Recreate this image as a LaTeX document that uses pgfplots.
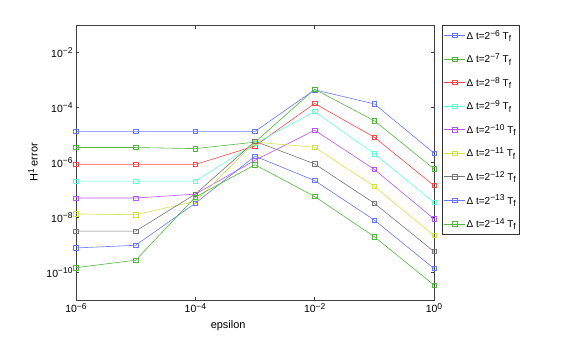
\documentclass[border=0pt]{standalone}
\usepackage{fontspec}
\setmainfont{Liberation Sans}
\usepackage{pgfplots}
\pgfplotsset{compat=1.18}

\definecolor{cblue}{RGB}{100,120,255}
\definecolor{cgreen}{RGB}{80,185,60}
\definecolor{cred}{RGB}{255,70,70}
\definecolor{ccyan}{RGB}{100,255,210}
\definecolor{cpurple}{RGB}{185,85,255}
\definecolor{cyellow}{RGB}{210,225,70}
\definecolor{cgray}{RGB}{120,120,120}

\tikzset{
  ser/.style={line width=0.6pt, mark=square, mark size=2.2bp,
              mark options={solid, line width=0.6pt}},
}
\newcommand{\hi}[1]{\raisebox{0.6ex}{\fontsize{8.5}{9}\selectfont #1}}
\newcommand{\lo}[1]{\raisebox{-0.45ex}{\fontsize{8.5}{9}\selectfont #1}}
\newcommand{\dt}[1]{Δ t=2\hi{−#1} T\lo{f}}

\begin{document}
\begin{tikzpicture}
\useasboundingbox (0,0) rectangle (586bp,-337bp);
\begin{axis}[
  at={(76bp,-300bp)}, anchor=south west,
  scale only axis, width=358bp, height=275bp,
  xmode=log, ymode=log,
  xmin=1e-6, xmax=1, ymin=1e-11, ymax=1e-1,
  xtick={1e-6,1e-4,1e-2,1},
  xticklabels={10\hi{−6},10\hi{−4},10\hi{−2},10\hi{0}},
  ytick={1e-10,1e-8,1e-6,1e-4,1e-2},
  yticklabels={10\hi{−10},10\hi{−8},10\hi{−6},10\hi{−4},10\hi{−2}},
  minor tick num=0, minor xtick={}, minor ytick={},
  tick align=inside, major tick length=3.5bp,
  axis line style={black!75, line width=0.6pt},
  tick style={black!75, line width=0.5pt},
  tick label style={font=\fontsize{10.5}{12}\selectfont},
  xlabel={epsilon}, ylabel={H\hi{1} error},
  label style={font=\fontsize{11}{12}\selectfont},
  xlabel style={at={(axis description cs:0.425,-0.0945)}, anchor=center},
  ylabel style={at={(axis description cs:-0.12,0.5)}, anchor=center},
  legend style={at={(1.022,1)}, anchor=north west,
    font=\fontsize{10}{11}\selectfont, draw=black!80, line width=0.5pt,
    row sep=11bp, inner xsep=2bp, inner ysep=4bp,
    nodes={inner sep=1bp}},
  legend cell align=left,
  legend image code/.code={
    \draw[#1] (0bp,0bp) -- (21bp,0bp);
    \draw[#1, mark repeat=2, mark phase=2] plot coordinates {(0bp,0bp)(10.5bp,0bp)(21bp,0bp)};
  },
]
\addplot[ser, cblue] coordinates {
  (1e-6,1.35e-5)(1e-5,1.35e-5)(1e-4,1.35e-5)(1e-3,1.35e-5)(1e-2,4.4e-4)(1e-1,1.35e-4)(1,2.2e-6)};
\addlegendentry{\dt{6}}
\addplot[ser, cgreen] coordinates {
  (1e-6,3.5e-6)(1e-5,3.5e-6)(1e-4,3.2e-6)(1e-3,5.5e-6)(1e-2,4.6e-4)(1e-1,3.3e-5)(1,5.9e-7)};
\addlegendentry{\dt{7}}
\addplot[ser, cred] coordinates {
  (1e-6,8.5e-7)(1e-5,8.5e-7)(1e-4,8.5e-7)(1e-3,4.0e-6)(1e-2,1.4e-4)(1e-1,8.3e-6)(1,1.45e-7)};
\addlegendentry{\dt{8}}
\addplot[ser, ccyan] coordinates {
  (1e-6,2.1e-7)(1e-5,2.1e-7)(1e-4,2.1e-7)(1e-3,4.9e-6)(1e-2,7.1e-5)(1e-1,2.1e-6)(1,3.5e-8)};
\addlegendentry{\dt{9}}
\addplot[ser, cpurple] coordinates {
  (1e-6,5.1e-8)(1e-5,5.1e-8)(1e-4,7.1e-8)(1e-3,1.2e-6)(1e-2,1.5e-5)(1e-1,5.6e-7)(1,8.9e-9)};
\addlegendentry{\dt{10}}
\addplot[ser, cyellow] coordinates {
  (1e-6,1.35e-8)(1e-5,1.26e-8)(1e-4,3.9e-8)(1e-3,5.5e-6)(1e-2,3.6e-6)(1e-1,1.35e-7)(1,2.2e-9)};
\addlegendentry{\dt{11}}
\addplot[ser, cgray] coordinates {
  (1e-6,3.2e-9)(1e-5,3.2e-9)(1e-4,7.1e-8)(1e-3,5.9e-6)(1e-2,8.9e-7)(1e-1,3.3e-8)(1,5.8e-10)};
\addlegendentry{\dt{12}}
\addplot[ser, cblue] coordinates {
  (1e-6,7.8e-10)(1e-5,9.8e-10)(1e-4,3.3e-8)(1e-3,1.7e-6)(1e-2,2.2e-7)(1e-1,8.1e-9)(1,1.4e-10)};
\addlegendentry{\dt{13}}
\addplot[ser, cgreen] coordinates {
  (1e-6,1.5e-10)(1e-5,2.8e-10)(1e-4,5.5e-8)(1e-3,8.3e-7)(1e-2,5.8e-8)(1e-1,2.0e-9)(1,3.5e-11)};
\addlegendentry{\dt{14}}
\end{axis}
\end{tikzpicture}
\end{document}
